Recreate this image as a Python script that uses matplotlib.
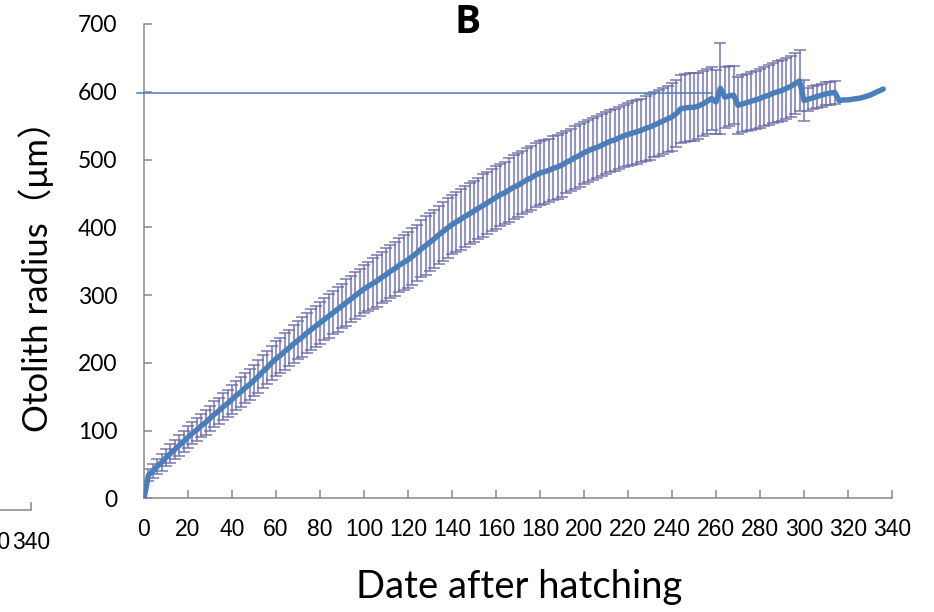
import numpy as np
import matplotlib
matplotlib.use('Agg')
import matplotlib.pyplot as plt

# 孵化后天数 (每2天读一次)
days = list(range(0, 337, 2))

# 耳石半径均值 (μm)
radius_mean = [
    0, 34, 40, 47, 53, 60, 66, 72, 78, 84,
    90, 96, 101, 107, 112, 118, 124, 129, 135, 140,
    146, 152, 157, 163, 168, 174, 180, 187, 193, 200,
    206, 211, 217, 222, 228, 233, 238, 244, 249, 254,
    259, 264, 269, 274, 279, 284, 289, 294, 299, 304,
    309, 313, 317, 321, 326, 330, 335, 339, 344, 348,
    352, 357, 362, 368, 373, 378, 383, 389, 394, 399,
    404, 408, 412, 416, 420, 424, 428, 432, 436, 440,
    444, 448, 451, 455, 459, 462, 466, 470, 473, 477,
    480, 482, 484, 487, 489, 492, 496, 499, 503, 506,
    510, 513, 516, 518, 521, 524, 527, 529, 532, 535,
    537, 539, 541, 543, 546, 548, 551, 554, 557, 560,
    563, 568, 575, 576, 577, 577, 579, 582, 586, 590,
    585, 605, 592, 594, 595, 580, 582, 584, 586, 588,
    590, 593, 595, 598, 600, 602, 605, 608, 612, 616,
    587, 589, 591, 593, 595, 597, 598, 599, 587, 588,
    588, 589, 590, 591, 593, 595, 598, 601, 604,
]

# 标准差
radius_sd = [
    0, 9, 10, 11, 12, 13, 14, 14, 15, 15,
    16, 16, 17, 17, 18, 18, 19, 19, 20, 20,
    21, 21, 22, 22, 23, 23, 24, 24, 25, 25,
    26, 26, 27, 27, 28, 28, 29, 29, 30, 30,
    31, 31, 32, 32, 33, 33, 34, 34, 35, 35,
    36, 36, 37, 38, 38, 39, 39, 40, 40, 41,
    41, 42, 42, 42, 43, 43, 43, 43, 44, 44,
    44, 44, 45, 45, 45, 45, 45, 46, 46, 46,
    46, 46, 46, 47, 47, 47, 47, 47, 47, 47,
    47, 47, 47, 47, 47, 47, 46, 46, 46, 46,
    46, 46, 46, 46, 46, 46, 46, 46, 46, 46,
    46, 47, 47, 47, 48, 48, 48, 49, 49, 49,
    50, 50, 50, 50, 50, 50, 49, 48, 48, 47,
    47, 67, 45, 44, 43, 42, 42, 42, 43, 43,
    44, 44, 44, 44, 45, 45, 45, 45, 45, 45,
    30, 17, 17, 17, 17, 17, 17, 17, 0, 0,
    0, 0, 0, 0, 0, 0, 0, 0, 0,
]

# 参考线
ref_level = 598
ref_start, ref_end = -3, 258

x_ticks = list(range(0, 341, 20))
y_ticks = list(range(0, 701, 100))

gray = '#878787'
blue = '#4a7ebb'
bar_c = '#6a6aa8'

fig = plt.figure(figsize=(9.34, 6.12), dpi=100)
ax = fig.add_axes([144 / 934, 1 - 498.3 / 612, 748 / 934, 474.3 / 612])

d = np.array(days)
m = np.array(radius_mean)
s = np.array(radius_sd)
keep = s > 0
ax.errorbar(d[keep], m[keep], yerr=s[keep], fmt='none', ecolor=bar_c,
            elinewidth=1.5, capsize=4, capthick=1.4, alpha=0.7, zorder=2)
ax.plot(d, m, color=blue, lw=3.9, zorder=3, solid_capstyle='round')
ax.plot([ref_start, ref_end], [ref_level, ref_level], color=blue, lw=1.1,
        clip_on=False, zorder=3)

ax.set_xlim(0, 340)
ax.set_ylim(0, 700)
ax.set_xticks(x_ticks)
ax.set_yticks(y_ticks)
for sp in ['top', 'right']:
    ax.spines[sp].set_visible(False)
for sp in ['left', 'bottom']:
    ax.spines[sp].set_color(gray)
    ax.spines[sp].set_linewidth(1.1)
ax.tick_params(direction='in', length=5.8, width=1.1, color=gray)
ax.tick_params(axis='x', pad=14)
ax.tick_params(axis='y', pad=19)
for t in ax.get_xticklabels():
    t.set_fontfamily('Liberation Sans')
    t.set_fontsize(16.5)
for t in ax.get_yticklabels():
    t.set_fontfamily('Lato')
    t.set_fontsize(16.5)

# 左侧残留的A图坐标轴
ax2 = fig.add_axes([(31 - 80) / 934, 1 - 510 / 612, 80 / 934, 0.05])
ax2.set_xlim(300, 340)
ax2.set_ylim(0, 1)
ax2.set_xticks([300, 320, 340])
ax2.set_yticks([])
for sp in ['top', 'right', 'left']:
    ax2.spines[sp].set_visible(False)
ax2.spines['bottom'].set_color(gray)
ax2.spines['bottom'].set_linewidth(1.1)
ax2.patch.set_visible(False)
ax2.tick_params(direction='in', length=5.8, width=1.1, color=gray, pad=15)
for t in ax2.get_xticklabels():
    t.set_fontfamily('Liberation Sans')
    t.set_fontsize(16.5)

fig.text(468 / 934, 1 - 22.5 / 612, 'B', ha='center', va='center',
         fontsize=28, fontweight='bold', family='Open Sans')
fig.text(519 / 934, 1 - 587 / 612, 'Date after hatching', ha='center',
         va='center', fontsize=27.5, family=['Lato', 'DejaVu Sans'])
fig.text(36 / 934, 1 - 268 / 612, 'Otolith radius（μm）', ha='center',
         va='center', rotation=90, fontsize=25,
         family=['Lato', 'Noto Sans CJK JP', 'DejaVu Sans'])

fig.savefig('out.png', dpi=100)
